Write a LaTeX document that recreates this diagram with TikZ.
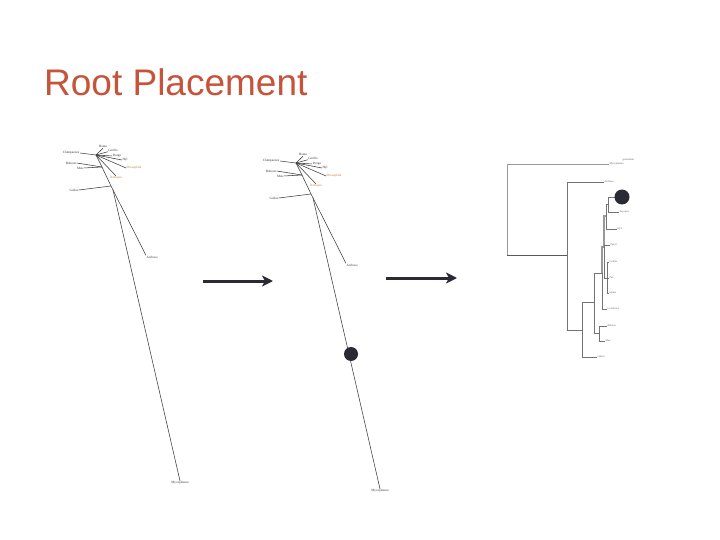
\documentclass[tikz,border=0pt]{standalone}
\usepackage{fontspec}
\setmainfont{Liberation Serif}
\newfontfamily\titlefont{Liberation Sans}
\usetikzlibrary{arrows.meta}
\definecolor{titlecol}{RGB}{197,84,58}
\definecolor{arrowcol}{RGB}{42,42,52}
\definecolor{branch}{RGB}{60,60,60}
\definecolor{dendcol}{RGB}{115,115,115}
\definecolor{orangelab}{RGB}{190,130,60}
\tikzset{
  leaf/.style={font=\fontsize{3.3}{3.7}\selectfont, text=black!80, inner sep=0.4pt},
  leafo/.style={leaf, text=orangelab},
  tiny/.style={font=\fontsize{2.7}{3}\selectfont, text=black!60, inner sep=0.3pt, anchor=west},
  brn/.style={draw=branch, line width=0.55pt},
  dend/.style={draw=dendcol, line width=0.6pt},
  bigarrow/.style={draw=arrowcol, line width=3pt, -{Stealth[length=11pt,width=11pt,inset=3pt]}},
  rootdot/.style={circle, fill=arrowcol, inner sep=0pt, minimum size=#1},
}
\newcommand\utree[1]{%
  \coordinate (#1hub) at (96,155);
  \coordinate (#1bm) at (102,167);
  \coordinate (#1g) at (111,186);
  \coordinate (#1n) at (113,190);
  \node[leaf, anchor=east] (#1chimp) at (80,153) {Chimpanzee};
  \node[leaf] (#1human) at (103,146.5) {Homo};
  \node[leaf] (#1gor) at (113,150) {Gorilla};
  \node[leaf] (#1oran) at (117,156) {Pongo};
  \node[leaf] (#1gib) at (125,160) {Hyl};
  \node[leafo] (#1dros) at (134,168) {Drosophila};
  \node[leafo] (#1xen) at (116,178) {Xenopus};
  \node[leaf] (#1bab) at (71,163) {Baboon};
  \node[leaf] (#1mus) at (80,168) {Mus};
  \node[leaf] (#1gal) at (74,190) {Gallus};
  \node[leaf] (#1arch) at (152,257) {Archaea};
  \node[leaf] (#1myco) at (180,483) {Mycoplasma};
  \draw[brn] (#1chimp.east) -- (#1hub);
  \draw[brn] (#1hub) -- (#1human.south);
  \draw[brn] (#1hub) -- (#1gor.south west);
  \draw[brn] (#1hub) -- (#1oran.west);
  \draw[brn] (#1hub) -- (#1gib.west);
  \draw[brn] (#1hub) -- (#1dros.west);
  \draw[brn] (#1hub) -- (#1xen.north);
  \draw[brn] (#1bab.east) -- (#1bm);
  \draw[brn] (#1mus.east) -- (#1bm);
  \draw[brn] (#1gal.east) -- (#1g);
  \draw[brn] (#1hub) -- (#1bm) -- (#1g) -- (#1n);
  \draw[brn] (#1n) -- (#1arch.north west);
  \draw[brn] (#1n) -- (#1myco.north);
}
\begin{document}
\begin{tikzpicture}[x=1pt,y=-1pt]
\useasboundingbox (0,0) rectangle (720,540);
\fill[white] (0,0) rectangle (720,540);
\node[anchor=base west, inner sep=0pt, text=titlecol, font=\titlefont\fontsize{37}{40}\selectfont] (title) at (44,96) {Root Placement};

% tree 1 (unrooted)
\utree{a}
% tree 2 (unrooted, root marked)
\begin{scope}[shift={(200,8)}]
\utree{b}
\end{scope}
\node[rootdot=14pt] (dot2) at (351,354) {};

% arrows
\coordinate (a1s) at (203,281);
\coordinate (a1e) at (273,281);
\coordinate (a2s) at (386,278);
\coordinate (a2e) at (457,278);
\draw[bigarrow] (a1s) -- (a1e);
\draw[bigarrow] (a2s) -- (a2e);

% tree 3 (rooted dendrogram)
\node[tiny] (L1) at (609,164) {Mycoplasma};
\node[tiny] (L1b) at (622,160) {genitalium};
\node[tiny] (L2) at (604,182) {Archaea};
\node[tiny] (L3) at (616,197) {Homo};
\node[tiny] (L4) at (619,212) {Xenopus};
\node[tiny] (L5) at (617,229) {Hyl};
\node[tiny] (L6) at (610,245) {Pan.t.t};
\node[tiny] (L7) at (609,262) {Gorilla};
\node[tiny] (L8) at (609,278) {Pan};
\node[tiny] (L9) at (609,293) {Homo};
\node[tiny] (L10) at (607,309) {Lo.sibirica};
\node[tiny] (L11) at (607,326) {Baboon};
\node[tiny] (L12) at (605,341) {Mus};
\node[tiny] (L13) at (597,357) {Gallus};
\coordinate (R) at (507,209.5);
\coordinate (A) at (567,255);
\coordinate (B) at (582,330);
\coordinate (C) at (594,302);
\coordinate (E) at (599,333);
\coordinate (D) at (602,273);
\coordinate (F) at (604,247);
\coordinate (H) at (607,278);
\coordinate (G) at (606,216);
\coordinate (I) at (608,204.5);
\draw[dend, draw=black!40] (R) |- (L1.west);
\draw[dend, draw=black!40] (R) -- ++(0,45.5);
\draw[dend, draw=black!65] (R) ++(0,45.5) -- (A);
\draw[dend] (A) |- (L2.west);
\draw[dend] (A) |- (B);
\draw[dend] (B) |- (C);
\draw[dend] (B) |- (L13.west);
\draw[dend] (C) |- (D);
\draw[dend] (C) |- (E);
\draw[dend] (E) |- (L11.west);
\draw[dend] (E) |- (L12.west);
\draw[dend, draw=black!40, line width=1.2pt] (D) |- (F);
\draw[dend] (D) |- (L10.west);
\draw[dend, draw=black!40, line width=1.2pt] (F) |- (G);
\draw[dend] (F) |- (L6.west);
\draw[dend] (F) |- (H);
\draw[dend] (H) |- (L7.west);
\draw[dend] (H) -- (L8.west);
\draw[dend] (H) |- (L9.west);
\draw[dend] (G) |- (I);
\draw[dend] (G) |- (L5.west);
\draw[dend] (I) |- (L3.west);
\draw[dend] (I) |- (L4.west);
\node[rootdot=15pt] (dot3) at (622,197) {};
\end{tikzpicture}
\end{document}
